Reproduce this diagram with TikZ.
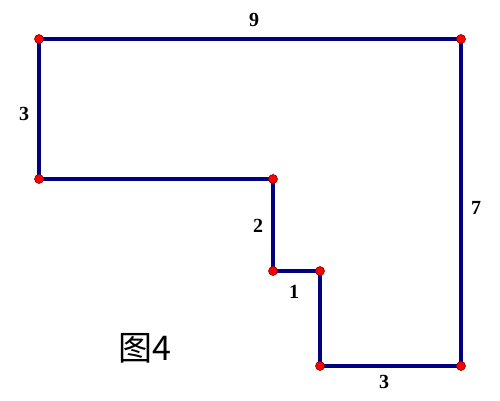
\documentclass[tikz,border=0pt]{standalone}
\usepackage{fontspec}
\setmainfont{Liberation Serif}
\newfontfamily\cjk{Noto Sans CJK SC}
\begin{document}
\begin{tikzpicture}[x=1pt,y=-1pt,
  edge/.style={draw={rgb,255:red,0;green,0;blue,128},line width=3.2pt},
  pt/.style={circle,fill=red,draw={rgb,255:red,140;green,0;blue,0},line width=0.6pt,inner sep=0pt,minimum size=9pt},
  lab/.style={font=\fontsize{20}{20}\selectfont\bfseries,inner sep=0pt}]
\useasboundingbox (0,0) rectangle (500,400);
\coordinate (A) at (39,39);
\coordinate (B) at (461,39);
\coordinate (C) at (461,366);
\coordinate (D) at (320,366);
\coordinate (E) at (320,271);
\coordinate (F) at (273,271);
\coordinate (G) at (273,179);
\coordinate (H) at (39,179);
\draw[edge] (A) -- (B) -- (C) -- (D) -- (E) -- (F) -- (G) -- (H) -- cycle;
\foreach \p in {A,B,C,D,E,F,G,H} \node[pt] at (\p) {};
\node[lab] (l9) at (254,20) {9};
\node[lab] (l3a) at (24,114) {3};
\node[lab] (l7) at (476,208) {7};
\node[lab] (l2) at (258,226) {2};
\node[lab] (l1) at (294,292) {1};
\node[lab] (l3b) at (384,382) {3};
\node[font=\cjk\fontsize{34}{34}\selectfont,inner sep=0pt] (cap) at (145,348) {图4};
\end{tikzpicture}
\end{document}
